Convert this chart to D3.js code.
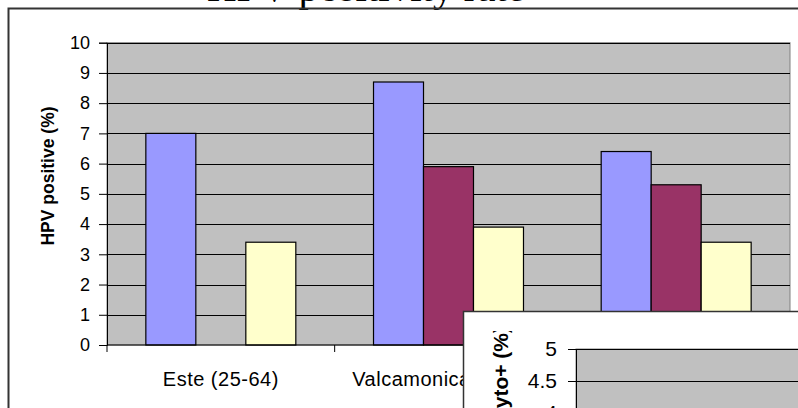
<!DOCTYPE html>
<html>
<head>
<meta charset="utf-8">
<script src="https://cdn.jsdelivr.net/npm/d3@7"></script>
<style>
  html, body { margin: 0; padding: 0; background: #fff; }
  svg { display: block; }
</style>
</head>
<body>
<svg id="chart" width="798" height="408"></svg>
<script>
// ---- data ----
const categories = ["Este (25-64)", "Valcamonica (25-64)", "Torino (25-64)"];
const seriesNames = ["Series A", "Series B", "Series C"];
const seriesA = [7.0, 8.7, 6.4];
const seriesB = [null, 5.9, 5.3];
const seriesC = [3.4, 3.9, 3.4];
const yTicks = [0, 1, 2, 3, 4, 5, 6, 7, 8, 9, 10];
const insetTicks = [5, 4.5, 4];
const titleText = "HPV positivity rate";
const yTitle = "HPV positive (%)";
const insetYTitle = "% cyto+ (%)";
const colors = ["#9999FF", "#993366", "#FFFFCC"];

const seriesData = [seriesA, seriesB, seriesC];

const svg = d3.select("#chart");

// chart title (mostly cut off by the top edge)
svg.append("text")
  .attr("x", 207).attr("y", 1)
  .attr("font-family", "'Liberation Serif', 'Times New Roman', serif")
  .attr("font-size", 41)
  .attr("fill", "#000")
  .text(titleText);

// chart area border
svg.append("rect")
  .attr("x", 8.5).attr("y", 8.5)
  .attr("width", 900).attr("height", 500)
  .attr("fill", "none").attr("stroke", "#333").attr("stroke-width", 2);

// ---- main plot ----
const plot = { left: 107, right: 790, top: 42.7, bottom: 345 };

const x0 = d3.scaleBand().domain(categories)
  .range([plot.left, plot.right]).paddingInner(0).paddingOuter(0);
const x1 = d3.scaleBand().domain(seriesNames)
  .range([0, x0.bandwidth()]).paddingInner(0).paddingOuter(0.777);
const y = d3.scaleLinear().domain([0, 10]).range([plot.bottom, plot.top]);

// plot area background
svg.append("rect")
  .attr("x", plot.left).attr("y", plot.top)
  .attr("width", plot.right - plot.left).attr("height", plot.bottom - plot.top)
  .attr("fill", "#C0C0C0").attr("stroke", "#808080").attr("stroke-width", 1);

// gridlines
svg.append("g").selectAll("line")
  .data(yTicks.filter(d => d > 0))
  .join("line")
  .attr("x1", plot.left).attr("x2", plot.right)
  .attr("y1", d => Math.round(y(d)) + 0.5).attr("y2", d => Math.round(y(d)) + 0.5)
  .attr("stroke", "#000").attr("stroke-width", 1);

// bars
const barG = svg.append("g");
seriesData.forEach((vals, si) => {
  barG.selectAll(null)
    .data(categories.map((c, i) => ({ c, v: vals[i] })).filter(d => d.v != null))
    .join("rect")
    .attr("x", d => x0(d.c) + x1(seriesNames[si]))
    .attr("y", d => y(d.v))
    .attr("width", x1.bandwidth())
    .attr("height", d => y(0) - y(d.v))
    .attr("fill", colors[si])
    .attr("stroke", "#000").attr("stroke-width", 1.2);
});

// y axis
const yAxis = d3.axisLeft(y).tickValues(yTicks).tickSize(8).tickPadding(9);
const yG = svg.append("g").attr("transform", `translate(${plot.left},0)`).call(yAxis);
yG.select(".domain").attr("stroke", "#000");
yG.selectAll(".tick line").attr("stroke", "#000");
yG.selectAll("text")
  .attr("font-family", "Arial, 'Liberation Sans', sans-serif")
  .attr("font-size", 18).attr("fill", "#000");

// x axis (category separators)
const xG = svg.append("g").attr("transform", `translate(0,${plot.bottom})`);
xG.append("line").attr("x1", plot.left).attr("x2", plot.right)
  .attr("y1", 0).attr("y2", 0).attr("stroke", "#000");
const bounds = categories.map(c => x0(c)).concat([plot.right]);
xG.selectAll("line.sep").data(bounds).join("line")
  .attr("class", "sep")
  .attr("x1", d => d).attr("x2", d => d)
  .attr("y1", 0).attr("y2", 7).attr("stroke", "#000");
xG.selectAll("text").data(categories).join("text")
  .attr("x", d => x0(d) + x0.bandwidth() / 2)
  .attr("y", 40.5)
  .attr("text-anchor", "middle")
  .attr("font-family", "Arial, 'Liberation Sans', sans-serif")
  .attr("font-size", 20).attr("letter-spacing", 0.5).attr("fill", "#000")
  .text(d => d);

// y title
svg.append("text")
  .attr("transform", "translate(54,176) rotate(-90)")
  .attr("text-anchor", "middle")
  .attr("font-family", "Arial, 'Liberation Sans', sans-serif")
  .attr("font-weight", "bold")
  .attr("font-size", 17.5).attr("fill", "#000")
  .text(yTitle);

// ---- inset chart (overlapping, cut off) ----
const inset = svg.append("g");
inset.append("rect")
  .attr("x", 463.5).attr("y", 311.5)
  .attr("width", 500).attr("height", 300)
  .attr("fill", "#fff").attr("stroke", "#333").attr("stroke-width", 1.5);

const ip = { left: 576, right: 900, top: 349 };
const yi = d3.scaleLinear().domain([0, 5]).range([ip.top + 320, ip.top]);

inset.append("rect")
  .attr("x", ip.left).attr("y", ip.top)
  .attr("width", ip.right - ip.left).attr("height", 400)
  .attr("fill", "#C0C0C0").attr("stroke", "#808080");

inset.append("g").selectAll("line")
  .data(insetTicks)
  .join("line")
  .attr("x1", ip.left).attr("x2", ip.right)
  .attr("y1", d => Math.round(yi(d)) + 0.5).attr("y2", d => Math.round(yi(d)) + 0.5)
  .attr("stroke", "#000");

const yiAxis = d3.axisLeft(yi).tickValues(insetTicks).tickSize(8).tickPadding(11)
  .tickFormat(d => d);
const yiG = inset.append("g").attr("transform", `translate(${ip.left},0)`).call(yiAxis);
yiG.select(".domain").attr("stroke", "#000");
yiG.selectAll(".tick line").attr("stroke", "#000");
yiG.selectAll("text")
  .attr("font-family", "Arial, 'Liberation Sans', sans-serif")
  .attr("font-size", 21).attr("fill", "#000");

svg.append("clipPath").attr("id", "insetTitleClip")
  .append("rect").attr("x", 470).attr("y", 331).attr("width", 80).attr("height", 200);
inset.append("g")
  .attr("clip-path", "url(#insetTitleClip)")
  .append("text")
  .attr("transform", "translate(508,326) rotate(-90)")
  .attr("text-anchor", "end")
  .attr("font-family", "Arial, 'Liberation Sans', sans-serif")
  .attr("font-weight", "bold")
  .attr("font-size", 21).attr("fill", "#000")
  .text(insetYTitle);
</script>
</body>
</html>
